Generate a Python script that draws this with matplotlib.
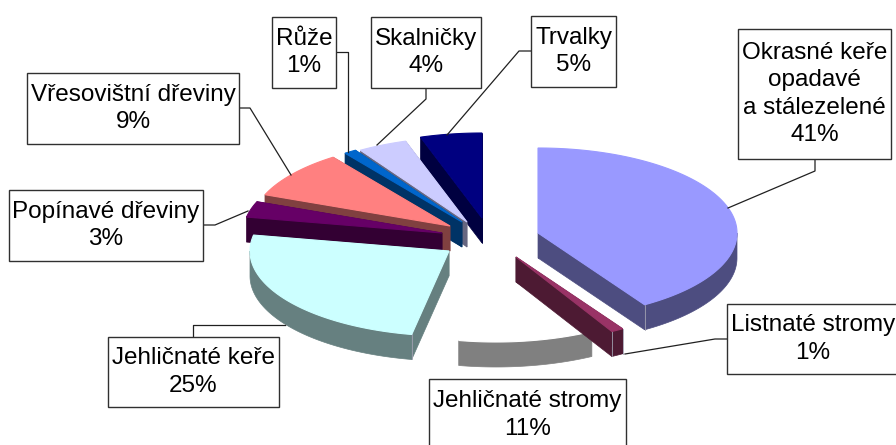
import numpy as np
import matplotlib
matplotlib.use("Agg")
import matplotlib.pyplot as plt
from matplotlib.patches import Rectangle, Polygon

plt.rcParams['font.family'] = ['Liberation Sans', 'DejaVu Sans']

names = ["Okrasné keře\nopadavé\na stálezelené", "Listnaté stromy", "Jehličnaté stromy",
         "Jehličnaté keře", "Popínavé dřeviny", "Vřesovištní dřeviny", "Růže", "Skalničky", "Trvalky"]
values = [41, 1, 11, 25, 3, 9, 1, 4, 5]

top_colors = ["#9999FF", "#993366", "#FFFFFF", "#CCFFFF", "#660066", "#FF8080", "#0066CC", "#CCCCFF", "#000080"]
side_colors = ["#4D4D80", "#4D1A33", "#808080", "#668080", "#330033", "#804040", "#003366", "#666680", "#000040"]

# exploded wedge centres, in figure pixels
centres = [(538, 233), (516, 257), (496, 257), (449, 251), (442, 233),
           (450, 226), (462, 222), (467, 222), (482, 218)]
rx, ry, depth = 199, 85, 25
draw_order = [8, 7, 6, 5, 4, 3, 2, 1, 0]

boxes = [(738, 29, 891, 159), (727, 304, 899, 374), (429, 379, 626, 450), (108, 337, 279, 407),
         (9, 190, 203, 261), (27, 73, 239, 144), (272, 17, 336, 88), (371, 17, 481, 88), (531, 16, 616, 87)]
leaders = [[(815, 159), (815, 171), (728, 208)],
           [(727, 339), (715, 339), (625, 354)],
           [],
           [(193, 337), (193, 325), (285, 325)],
           [(203, 225), (215, 225), (248, 211)],
           [(239, 108), (250, 108), (291, 175)],
           [(336, 52), (348, 52), (348, 152)],
           [(426, 88), (426, 99), (377, 145)],
           [(531, 51), (519, 51), (447, 135)]]

fig = plt.figure(figsize=(8.96, 4.45), dpi=100)
ax = fig.add_axes([0, 0, 1, 1])
ax.set_xlim(0, 896)
ax.set_ylim(445, 0)
ax.axis("off")

edges = np.cumsum([0] + values) / sum(values) * 2 * np.pi


def arc(c, a0, a1, n=120):
    t = np.linspace(a0, a1, n)
    return np.column_stack([c[0] + rx * np.sin(t), c[1] - ry * np.cos(t)])


down = np.array([0, depth])
for i in draw_order:
    c = np.array(centres[i], float)
    a0, a1 = edges[i], edges[i + 1]
    pts = arc(c, a0, a1)
    z = draw_order.index(i) * 3
    white_top = top_colors[i] == "#FFFFFF"
    # cut faces
    if not white_top:
        for p in (pts[0], pts[-1]):
            face = np.array([c, p, p + down, c + down])
            ax.add_patch(Polygon(face, closed=True, fc=side_colors[i], ec=side_colors[i], lw=0.5, zorder=2 + z))
    # rim
    lo, hi = max(a0, np.pi / 2), min(a1, 3 * np.pi / 2)
    if hi > lo:
        r = arc(c, lo, hi)
        rim = np.vstack([r, (r + down)[::-1]])
        ax.add_patch(Polygon(rim, closed=True, fc=side_colors[i], ec=side_colors[i], lw=0.5, zorder=2 + z))
    # light corner lines
    for p, a in ((pts[0], a0), (pts[-1], a1)):
        if np.pi / 2 < a < 3 * np.pi / 2 and not white_top:
            ax.plot([p[0], p[0]], [p[1], p[1] + depth], color="#A0A0B0", lw=0.6, zorder=3 + z)
    # top
    ax.add_patch(Polygon(np.vstack([c, pts]), closed=True, fc=top_colors[i], ec=top_colors[i], lw=0.8, zorder=4 + z))

for i, (name, v) in enumerate(zip(names, values)):
    if leaders[i]:
        xs, ys = zip(*leaders[i])
        ax.plot(xs, ys, color="#202020", lw=0.9, zorder=50)
    x0, y0, x1, y1 = boxes[i]
    ax.add_patch(Rectangle((x0, y0), x1 - x0, y1 - y0, fc="white", ec="#303030", lw=1.0, zorder=51))
    ax.text((x0 + x1) / 2, (y0 + y1) / 2 if i != 2 else 415, f"{name}\n{v}%", ha="center", va="center",
            fontsize=17.5, linespacing=1.33, color="black", zorder=52, multialignment="center")

fig.savefig("out.png", dpi=100)
